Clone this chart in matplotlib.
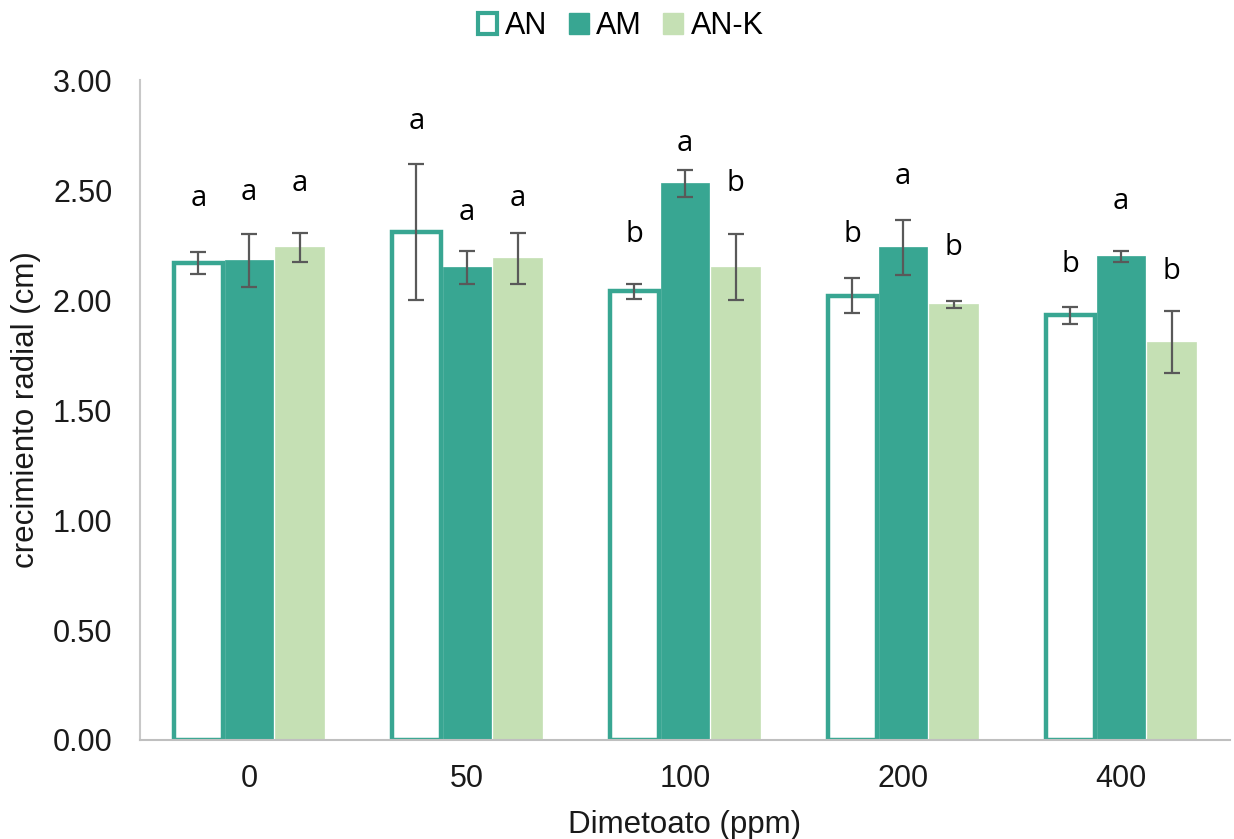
import matplotlib
matplotlib.use("Agg")
import matplotlib.pyplot as plt
import numpy as np
from matplotlib.patches import Patch

categories = ["0", "50", "100", "200", "400"]
series = ["AN", "AM", "AN-K"]
an_vals = [2.17, 2.31, 2.04, 2.02, 1.93]
am_vals = [2.18, 2.15, 2.53, 2.24, 2.20]
ank_vals = [2.24, 2.19, 2.15, 1.98, 1.81]
an_err = [0.05, 0.31, 0.035, 0.08, 0.04]
am_err = [0.12, 0.075, 0.06, 0.125, 0.025]
ank_err = [0.065, 0.115, 0.15, 0.015, 0.14]
an_letters = ["a", "a", "b", "b", "b"]
am_letters = ["a", "a", "a", "a", "a"]
ank_letters = ["a", "a", "b", "b", "b"]
an_letter_y = [2.46, 2.81, 2.30, 2.30, 2.16]
am_letter_y = [2.49, 2.40, 2.71, 2.56, 2.45]
ank_letter_y = [2.53, 2.46, 2.53, 2.24, 2.13]
yticks = [0.0, 0.5, 1.0, 1.5, 2.0, 2.5, 3.0]

teal = "#38A692"
light = "#C5E0B4"
errc = "#595959"
txtc = "#1a1a1a"
sans = ["Liberation Sans", "DejaVu Sans"]

fig = plt.figure(figsize=(12.34, 8.39), dpi=100)
ax = fig.add_axes([0.1135, 0.118, 0.8833, 0.7866])

x = np.arange(len(categories))
w = 0.222
off = 0.232
ekw = dict(ecolor=errc, elinewidth=1.6, capsize=6, capthick=1.6)

ax.bar(x - off, an_vals, w, facecolor="white", edgecolor=teal, linewidth=3.2,
       yerr=an_err, error_kw=ekw, zorder=2)
ax.bar(x, am_vals, w, facecolor=teal, edgecolor=teal, linewidth=0.5,
       yerr=am_err, error_kw=ekw, zorder=2)
ax.bar(x + off, ank_vals, w, facecolor=light, edgecolor=light, linewidth=0.5,
       yerr=ank_err, error_kw=ekw, zorder=2)

lfont = dict(family=["Open Sans", "DejaVu Sans"], fontsize=21, ha="center", va="center",
             color="black")
for i in range(len(categories)):
    ax.text(x[i] - off, an_letter_y[i], an_letters[i], **lfont)
    ax.text(x[i], am_letter_y[i], am_letters[i], **lfont)
    ax.text(x[i] + off, ank_letter_y[i], ank_letters[i], **lfont)

ax.set_xlim(-0.5, len(categories) - 0.5)
ax.set_ylim(0, 3.0)
ax.set_yticks(yticks)
ax.set_yticklabels([f"{v:.2f}" for v in yticks])
ax.set_xticks(x)
ax.set_xticklabels(categories)

for lab in ax.get_xticklabels() + ax.get_yticklabels():
    lab.set_fontfamily(sans)
    lab.set_fontsize(22)
    lab.set_color(txtc)
ax.tick_params(axis="x", length=0, pad=17)
ax.tick_params(axis="y", length=0, pad=20)
tf = dict(family=sans, size=22.5)
ax.set_xlabel("Dimetoato (ppm)", fontdict=tf, color=txtc)
ax.set_ylabel("crecimiento radial (cm)", fontdict=tf, color=txtc)
ax.xaxis.set_label_coords(0.5, -0.106)
ax.yaxis.set_label_coords(-0.091, 0.5)

for s in ["top", "right"]:
    ax.spines[s].set_visible(False)
ax.spines["left"].set_color("#C8C8C8")
ax.spines["left"].set_linewidth(1.5)
ax.spines["bottom"].set_color("#BFBFBF")
ax.spines["bottom"].set_linewidth(1.5)

handles = [Patch(facecolor="white", edgecolor=teal, linewidth=3),
           Patch(facecolor=teal, edgecolor=teal),
           Patch(facecolor=light, edgecolor=light)]
fig.legend(handles, series, loc="upper center", bbox_to_anchor=(0.503, 1.014), ncol=3,
           frameon=False, handlelength=0.65, handleheight=0.65, handletextpad=0.25,
           columnspacing=0.7, borderpad=0.25, prop=dict(family=sans, size=22))

fig.savefig("out.png", dpi=100, facecolor="white")
